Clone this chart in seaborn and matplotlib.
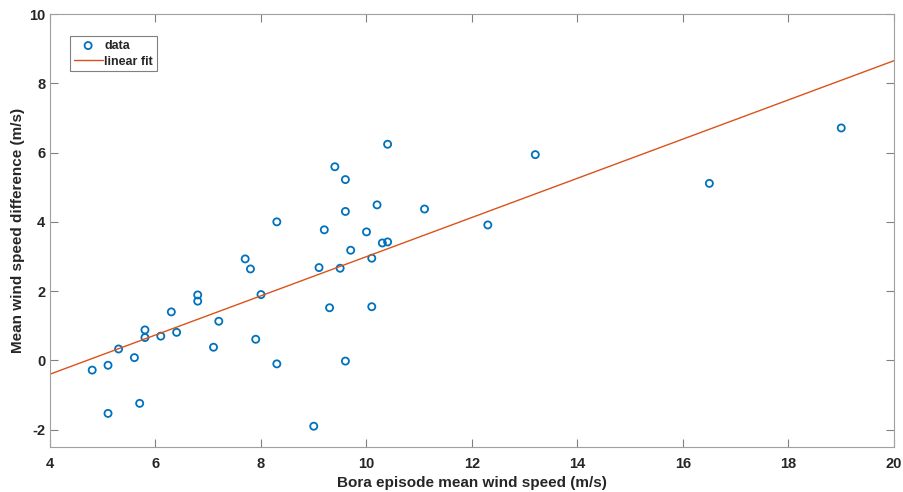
import numpy as np
import pandas as pd
import matplotlib
matplotlib.use("Agg")
import matplotlib.pyplot as plt
import seaborn as sns

# Data
wind_speed = [4.8, 5.1, 5.1, 5.3, 5.6, 5.7, 5.8, 5.8, 6.1, 6.3, 6.4, 6.8, 6.8, 7.1, 7.2,
              7.7, 7.8, 7.9, 8.0, 8.3, 8.3, 9.0, 9.1, 9.2, 9.3, 9.4, 9.5, 9.6, 9.6, 9.6,
              9.7, 10.0, 10.1, 10.1, 10.2, 10.3, 10.4, 10.4, 11.1, 12.3, 13.2, 16.5, 19.0]
speed_diff = [-0.28, -0.14, -1.53, 0.33, 0.08, -1.24, 0.88, 0.66, 0.70, 1.40, 0.81, 1.89,
              1.71, 0.38, 1.13, 2.93, 2.64, 0.61, 1.90, 4.00, -0.10, -1.90, 2.68, 3.77,
              1.52, 5.59, 2.66, 5.22, 4.30, -0.02, 3.18, 3.71, 2.95, 1.55, 4.49, 3.39,
              3.42, 6.24, 4.37, 3.91, 5.94, 5.11, 6.71]
fit_slope = 0.5656
fit_intercept = -2.66
x_ticks = [4, 6, 8, 10, 12, 14, 16, 18, 20]
y_ticks = [-2, 0, 2, 4, 6, 8, 10]

sns.set_style("white")
plt.rcParams['font.family'] = ['Liberation Sans', 'DejaVu Sans']

fig = plt.figure(figsize=(9.04, 4.92), dpi=100)
ax = fig.add_axes([50/904, 1-447/492, (894-50)/904, (447-14)/492])

df = pd.DataFrame({"x": wind_speed, "y": speed_diff})
sns.scatterplot(data=df, x="x", y="y", ax=ax, marker="o", s=26,
                facecolors="none", edgecolor="#0072BD", linewidth=1.3, label="data")

xlim = (4, 20)
fit_x = np.array(xlim, dtype=float)
fit_df = pd.DataFrame({"x": fit_x, "y": fit_slope * fit_x + fit_intercept})
sns.lineplot(data=fit_df, x="x", y="y", ax=ax, color="#D95319", linewidth=1.0,
             label="linear fit")

ax.set_xlim(*xlim)
ax.set_ylim(-2.5, 10)
ax.set_xticks(x_ticks)
ax.set_yticks(y_ticks)
ax.set_xticklabels([str(t) for t in x_ticks], fontweight="bold", fontsize=10.5)
ax.set_yticklabels([str(t) for t in y_ticks], fontweight="bold", fontsize=10.5)
ax.tick_params(direction="in", length=6, width=0.8, colors="#808080",
               labelcolor="#262626", top=True, right=True, bottom=True, left=True)
ax.tick_params(axis="x", pad=7.5)
ax.tick_params(axis="y", pad=3.5)
for sp in ax.spines.values():
    sp.set_visible(True)
    sp.set_color("#a0a0a0")
    sp.set_linewidth(0.8)

ax.set_xlabel("Bora episode mean wind speed (m/s)", fontweight="bold", fontsize=11,
              color="#262626", labelpad=3)
ax.set_ylabel("Mean wind speed difference (m/s)", fontweight="bold", fontsize=11,
              color="#262626", labelpad=3)

leg = ax.legend(loc="upper left", bbox_to_anchor=(0.0237, 0.949), borderaxespad=0,
                fancybox=False, edgecolor="#808080", framealpha=1,
                prop={"weight": "bold", "size": 9},
                handlelength=2.3, handletextpad=0.15, borderpad=0.3, labelspacing=0.3)
leg.get_frame().set_linewidth(0.8)

fig.savefig("out.png", dpi=100)
